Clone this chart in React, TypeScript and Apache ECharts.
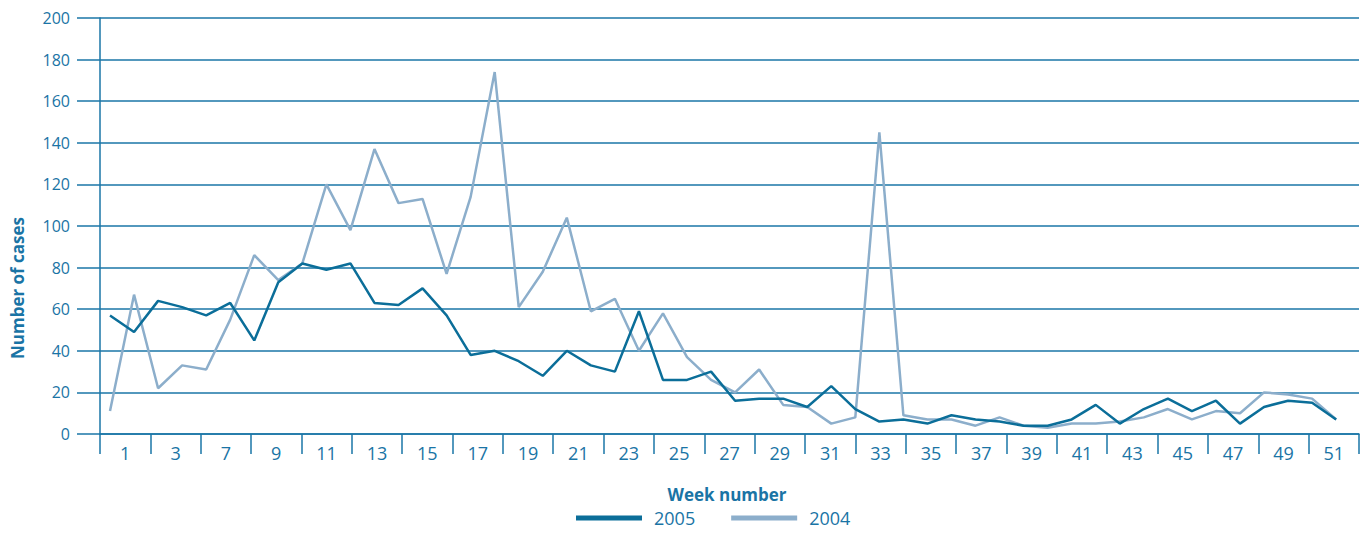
import React, { useEffect, useRef } from "react";
import * as echarts from "echarts";

const weeks = [1, 2, 3, 4, 5, 6, 7, 8, 9, 10, 11, 12, 13, 14, 15, 16, 17, 18, 19, 20, 21, 22, 23, 24, 25, 26, 27, 28, 29, 30, 31, 32, 33, 34, 35, 36, 37, 38, 39, 40, 41, 42, 43, 44, 45, 46, 47, 48, 49, 50, 51, 52];

const cases2005 = [57, 49, 64, 61, 57, 63, 45, 73, 82, 79, 82, 63, 62, 70, 57, 38, 40, 35, 28, 40, 33, 30, 59, 26, 26, 30, 16, 17, 17, 13, 23, 12, 6, 7, 5, 9, 7, 6, 4, 4, 7, 14, 5, 12, 17, 11, 16, 5, 13, 16, 15, 7];

const cases2004 = [11, 67, 22, 33, 31, 55, 86, 74, 82, 120, 98, 137, 111, 113, 77, 114, 174, 61, 78, 104, 59, 65, 40, 58, 37, 26, 20, 31, 14, 13, 5, 8, 145, 9, 7, 7, 4, 8, 4, 3, 5, 5, 6, 8, 12, 7, 11, 10, 20, 19, 17, 7];

const weekLabels = ["1", "3", "7", "9", "11", "13", "15", "17", "19", "21", "23", "25", "27", "29", "31", "33", "35", "37", "39", "41", "43", "45", "47", "49", "51"];

const AXIS = "#1a76a7";
const TEXT = "#1a74a5";
const DARK = "#0b6e99";
const LIGHT = "#8caecb";
const FONT = "'Open Sans', 'Noto Sans', sans-serif";

export default function App() {
  const ref = useRef<HTMLDivElement>(null);

  useEffect(() => {
    if (!ref.current) return;
    const chart = echarts.init(ref.current, undefined, { renderer: "svg" });
    chart.setOption({
      animation: false,
      textStyle: { fontFamily: FONT },
      grid: { left: 100, right: 11, top: 18, bottom: 99, containLabel: false },
      xAxis: [
        {
          type: "value",
          min: 0.584,
          max: 52.95,
          show: false,
        },
        {
          type: "category",
          data: weekLabels,
          boundaryGap: true,
          position: "bottom",
          axisLine: { show: true, lineStyle: { color: AXIS, width: 1.5 } },
          axisTick: { show: true, length: 20, lineStyle: { color: AXIS, width: 1.5 } },
          axisLabel: { color: TEXT, fontSize: 18, margin: 10, fontFamily: FONT },
          splitLine: { show: false },
        },
      ],
      yAxis: {
        type: "value",
        min: 0,
        max: 200,
        interval: 20,
        axisLine: { show: true, lineStyle: { color: AXIS, width: 1.5 } },
        axisTick: { show: true, length: 23, lineStyle: { color: AXIS, width: 1.5 } },
        axisLabel: { color: TEXT, fontSize: 16, margin: 30, fontFamily: FONT },
        splitLine: { show: true, lineStyle: { color: AXIS, width: 1.5 } },
      },
      legend: {
        left: 576,
        top: 509,
        padding: 0,
        itemWidth: 66,
        itemHeight: 5,
        itemGap: 36,
        icon: "rect",
        textStyle: {
          color: TEXT,
          fontSize: 18,
          lineHeight: 18,
          fontFamily: FONT,
          padding: [0, 0, 0, 7],
        },
        data: ["2005", "2004"],
      },
      graphic: [
        {
          type: "text",
          x: 17,
          y: 288,
          rotation: Math.PI / 2,
          style: {
            text: "Number of cases",
            fill: TEXT,
            font: `bold 17px ${FONT}`,
            align: "center",
            verticalAlign: "middle",
          },
        },
        {
          type: "text",
          x: 727,
          y: 494,
          style: {
            text: "Week number",
            fill: TEXT,
            font: `bold 17px ${FONT}`,
            align: "center",
            verticalAlign: "middle",
          },
        },
      ],
      series: [
        {
          name: "2004",
          type: "line",
          xAxisIndex: 0,
          data: weeks.map((w, i) => [w, cases2004[i]]),
          showSymbol: false,
          symbol: "none",
          lineStyle: { color: LIGHT, width: 2.5 },
          itemStyle: { color: LIGHT },
          z: 2,
        },
        {
          name: "2005",
          type: "line",
          xAxisIndex: 0,
          data: weeks.map((w, i) => [w, cases2005[i]]),
          showSymbol: false,
          symbol: "none",
          lineStyle: { color: DARK, width: 2.5 },
          itemStyle: { color: DARK },
          z: 3,
        },
      ],
    });
    return () => chart.dispose();
  }, []);

  return (
    <div
      ref={ref}
      style={{ position: "absolute", left: 0, top: 0, width: 1370, height: 533, background: "#fff" }}
    />
  );
}
